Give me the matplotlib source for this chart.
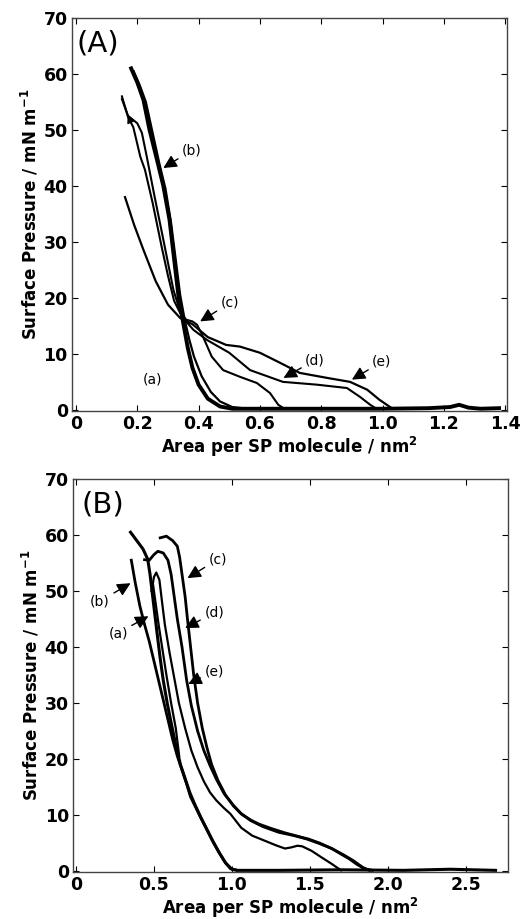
import matplotlib
matplotlib.use('Agg')
import matplotlib.pyplot as plt

plt.rcParams['font.family'] = ['DejaVu Sans']

# ---- panel (A) isotherms: area (nm^2) vs surface pressure (mN/m)
a_x = [0.18, 0.20, 0.22, 0.24, 0.265, 0.285, 0.305, 0.32, 0.335, 0.35, 0.365, 0.38, 0.40, 0.43, 0.47, 0.51,
       0.60, 0.80, 1.00, 1.15, 1.22, 1.25, 1.28, 1.32, 1.38]
a_y = [61, 58.5, 55.4, 50, 44.5, 40, 34, 27, 20, 15.5, 11, 7.5, 4.5, 2, 0.6, 0.2,
       0.2, 0.2, 0.2, 0.3, 0.5, 0.9, 0.4, 0.2, 0.3]
b_x = [0.188, 0.208, 0.228, 0.248, 0.272, 0.292, 0.31, 0.325, 0.34, 0.355, 0.37, 0.385, 0.41, 0.44, 0.47, 0.51, 0.56]
b_y = [60.5, 58, 55, 50, 44, 39.5, 33.5, 27, 20.5, 16, 12.5, 9.5, 6, 3.2, 1.5, 0.5, 0.2]
c_x = [0.15, 0.17, 0.187, 0.21, 0.225, 0.25, 0.28, 0.30, 0.32, 0.34, 0.36, 0.38, 0.395, 0.415, 0.443, 0.48,
       0.535, 0.59, 0.633, 0.66, 0.68]
c_y = [56, 52.3, 50.5, 45.2, 42.9, 37, 29, 24, 19.5, 17.3, 16.1, 15.8, 15.2, 13, 9.5, 7.1,
       5.9, 4.8, 3, 0.9, 0.2]
d_x = [0.15, 0.17, 0.20, 0.215, 0.23, 0.255, 0.285, 0.318, 0.345, 0.383, 0.427, 0.50, 0.568, 0.675, 0.786,
       0.884, 0.927, 0.96, 0.98]
d_y = [55.5, 52.5, 51.2, 49.5, 45.5, 38.5, 30.4, 21.4, 16.7, 14.3, 12.5, 10.2, 7.1, 5.0, 4.5,
       3.9, 2.3, 0.9, 0.2]
e_x = [0.16, 0.19, 0.22, 0.26, 0.30, 0.34, 0.38, 0.43, 0.49, 0.535, 0.60, 0.666, 0.73, 0.82, 0.894,
       0.95, 0.99, 1.03, 1.06]
e_y = [38, 33, 28.6, 23, 18.8, 16.4, 15.3, 13, 11.6, 11.3, 10.2, 8.4, 6.6, 5.7, 5.0, 3.6, 1.8, 0.3, 0.2]

# ---- panel (B)
ba_x = [0.35, 0.39, 0.43, 0.46, 0.475, 0.49, 0.505, 0.52, 0.54, 0.56, 0.585, 0.61, 0.64, 0.67, 0.70, 0.73,
        0.76, 0.80, 0.84, 0.88, 0.92, 0.96, 1.00, 1.04, 1.30, 1.70, 2.10, 2.40, 2.69]
ba_y = [60.5, 59, 57.5, 55.7, 53, 49.5, 46, 42.5, 38, 34, 30, 26.5, 22.5, 19, 16.5, 14,
        12, 9.6, 7.4, 5.2, 3.2, 1.4, 0.3, 0.1, 0.1, 0.2, 0.1, 0.3, 0.1]
bb_x = [0.355, 0.38, 0.41, 0.44, 0.47, 0.50, 0.53, 0.56, 0.59, 0.62, 0.65, 0.68, 0.71, 0.735,
        0.76, 0.795, 0.835, 0.875, 0.915, 0.955, 0.99, 1.03]
bb_y = [55.5, 51.5, 47.3, 44, 41, 37.5, 34, 30.5, 27, 23.5, 20.5, 18, 15.5, 13.2,
        11.8, 9.8, 7.6, 5.4, 3.4, 1.6, 0.4, 0.1]
bc_x = [0.54, 0.58, 0.62, 0.65, 0.665, 0.68, 0.70, 0.715, 0.735, 0.755, 0.78, 0.81, 0.84, 0.87, 0.91, 0.96,
        1.01, 1.06, 1.12, 1.17, 1.25, 1.34, 1.42, 1.49, 1.56, 1.64, 1.70, 1.75, 1.80, 1.85, 1.90]
bc_y = [59.5, 59.8, 59, 58, 56, 53, 49, 45, 40, 35, 30, 25.5, 22, 19, 16.2, 13.5,
        11.6, 10.2, 9.1, 8.4, 7.6, 6.8, 6.2, 5.7, 5, 4, 3, 2.2, 1.2, 0.4, 0.1]
bd_x = [0.485, 0.50, 0.515, 0.535, 0.55, 0.57, 0.60, 0.63, 0.66, 0.70, 0.74, 0.78, 0.82, 0.86,
        0.90, 0.95, 0.99, 1.06, 1.13, 1.21, 1.28, 1.34, 1.38, 1.42, 1.45, 1.51, 1.57, 1.64, 1.70]
bd_y = [50, 52.5, 53.3, 52, 48.5, 44, 39, 34.5, 30, 25.5, 21.5, 18.5, 16, 14,
        12.6, 11.2, 10.2, 7.7, 6.3, 5.4, 4.6, 4.0, 4.2, 4.5, 4.4, 3.6, 2.5, 1.25, 0.1]
# left branch of the (d) hump, running into the (a)/(b) pair
bd2_x = [0.495, 0.51, 0.53, 0.555, 0.58, 0.61, 0.64, 0.662]
bd2_y = [51, 48, 44, 39.5, 35, 30, 25.5, 20.5]
be_x = [0.44, 0.47, 0.50, 0.525, 0.56, 0.59, 0.61, 0.63, 0.65, 0.68, 0.71, 0.74, 0.78, 0.82,
        0.86, 0.90, 0.95, 1.01, 1.06, 1.12, 1.20, 1.30, 1.40, 1.48, 1.56, 1.64, 1.72, 1.78,
        1.84, 1.88]
be_y = [55.6, 55.5, 56.5, 57.1, 56.8, 55.5, 53, 49, 45, 40, 34, 29.5, 25, 21.5,
        18.8, 16.4, 13.8, 11.7, 10.2, 9, 7.9, 6.9, 6.3, 5.7, 4.9, 4, 2.8, 1.8, 0.6, 0.1]

xticks_a = [0, 0.2, 0.4, 0.6, 0.8, 1.0, 1.2, 1.4]
xtick_labels_a = ['0', '0.2', '0.4', '0.6', '0.8', '1.0', '1.2', '1.4']
xticks_b = [0, 0.5, 1.0, 1.5, 2.0, 2.5]
xtick_labels_b = ['0', '0.5', '1.0', '1.5', '2.0', '2.5']
yticks = [0, 10, 20, 30, 40, 50, 60, 70]

# label text position, arrow tip
labels_a = {'(b)': ((0.378, 46.4), (0.285, 43.2)),
            '(c)': ((0.502, 19.1), (0.405, 15.8)),
            '(d)': ((0.78, 8.9), (0.677, 5.7)),
            '(e)': ((0.998, 8.6), (0.90, 5.4))}
labels_b = {'(a)': ((0.27, 42.5), (0.465, 45.5)),
            '(b)': ((0.155, 48.2), (0.35, 51.4)),
            '(c)': ((0.91, 55.7), (0.715, 52.3)),
            '(d)': ((0.886, 46.1), (0.70, 43.4)),
            '(e)': ((0.886, 35.7), (0.72, 33.4))}

fig = plt.figure(figsize=(5.3, 9.19), dpi=100)
axA = fig.add_axes([0.1358, 0.5528, 0.8208, 0.4276])
axB = fig.add_axes([0.1377, 0.0511, 0.8208, 0.4276])

axA.plot(a_x, a_y, color='k', lw=2.8)
axA.plot(b_x, b_y, color='k', lw=1.6)
axA.plot(c_x, c_y, color='k', lw=1.5)
axA.plot(d_x, d_y, color='k', lw=1.5)
axA.plot(e_x, e_y, color='k', lw=1.6)
# small arrowhead near the start of (c)/(d)
axA.annotate('', xy=(0.165, 53.2), xytext=(0.178, 51.6),
             arrowprops=dict(arrowstyle='-|>', color='k', lw=1.0, mutation_scale=12))

axB.plot(ba_x, ba_y, color='k', lw=2.2)
axB.plot(bb_x, bb_y, color='k', lw=2.0)
axB.plot(bc_x, bc_y, color='k', lw=2.0)
axB.plot(bd_x, bd_y, color='k', lw=1.6)
axB.plot(bd2_x, bd2_y, color='k', lw=1.6)
axB.plot(be_x, be_y, color='k', lw=2.0)

arrow = dict(arrowstyle='-|>', color='k', lw=1.0, mutation_scale=20, shrinkA=1, shrinkB=0)
for txt, (pos, tip) in labels_a.items():
    axA.annotate(txt, xy=tip, xytext=pos, fontsize=10, ha='center', va='center', arrowprops=arrow)
axA.text(0.25, 5.4, '(a)', fontsize=10, ha='center', va='center')
for txt, (pos, tip) in labels_b.items():
    axB.annotate(txt, xy=tip, xytext=pos, fontsize=10, ha='center', va='center', arrowprops=arrow)

axA.text(0.072, 65.5, '(A)', fontsize=21, ha='center', va='center')
axB.text(0.17, 65.5, '(B)', fontsize=21, ha='center', va='center')

for ax, xt, xl, lim in [(axA, xticks_a, xtick_labels_a, (-0.013, 1.406)),
                        (axB, xticks_b, xtick_labels_b, (-0.019, 2.77))]:
    ax.set_xlim(*lim)
    ax.set_ylim(-0.2, 70)
    ax.set_xticks(xt)
    ax.set_xticklabels(xl)
    ax.set_yticks(yticks)
    ax.tick_params(direction='in', length=4, width=0.8, top=True, right=True,
                   labelsize=12.5, pad=3)
    for lab in ax.get_xticklabels() + ax.get_yticklabels():
        lab.set_fontweight('bold')
    for sp in ax.spines.values():
        sp.set_color('#444444')
        sp.set_linewidth(1.0)
    ax.set_xlabel('Area per SP molecule / nm$^\\mathbf{2}$', fontsize=12, fontweight='bold', labelpad=1)
    ax.set_ylabel('Surface Pressure / mN m$^\\mathbf{-1}$', fontsize=12, fontweight='bold', labelpad=2)

fig.savefig('out.png', dpi=100)
